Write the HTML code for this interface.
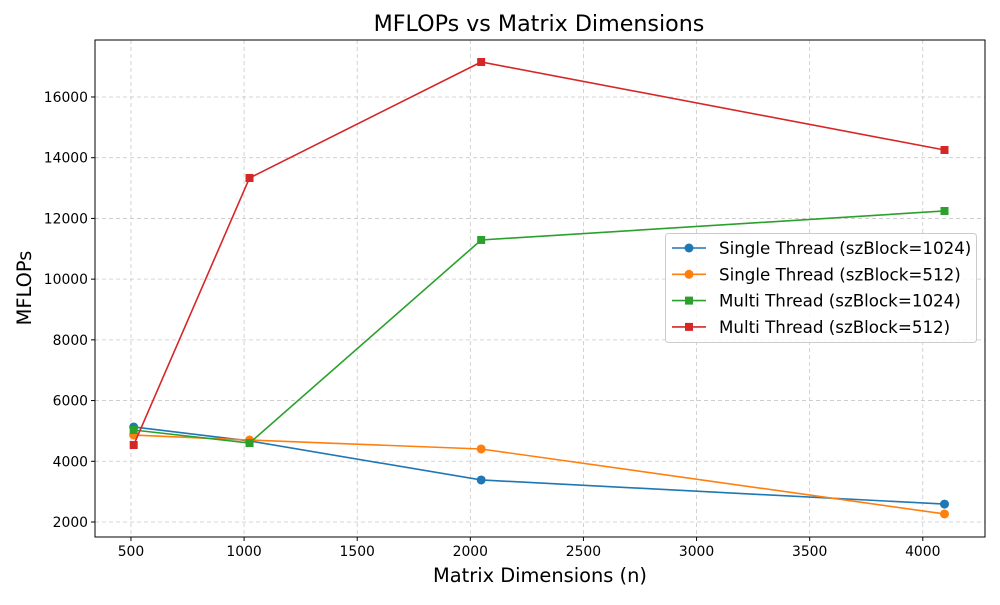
<!DOCTYPE html>
<html><head><meta charset="utf-8"><style>body{margin:0;background:#fff}svg text{font-family:"DejaVu Sans","Liberation Sans",sans-serif}</style></head>
<body>
<svg id="chart" width="1000" height="600">
<rect width="1000" height="600" fill="#fff"/>
<g id="grid"></g><g id="axes"></g><g id="series"></g>
<text x="539" y="31" font-size="22.2" text-anchor="middle">MFLOPs vs Matrix Dimensions</text>
<text x="540" y="582" font-size="19.4" text-anchor="middle">Matrix Dimensions (n)</text>
<text transform="translate(31,288) rotate(-90)" font-size="19.4" text-anchor="middle">MFLOPs</text>
<g id="legend"></g>
</svg>
<script>
const categories=[512,1024,2048,4096];
const singleT1024=[5130,4670,3385,2590];
const singleT512=[4865,4700,4405,2265];
const multiT1024=[5030,4600,11290,12245];
const multiT512=[4536,13332,17152,14254];
const xTicks=[500,1000,1500,2000,2500,3000,3500,4000];
const yTicks=[2000,4000,6000,8000,10000,12000,14000,16000];
const seriesNames=["Single Thread (szBlock=1024)","Single Thread (szBlock=512)","Multi Thread (szBlock=1024)","Multi Thread (szBlock=512)"];

const L=95,R=985,T=40,B=537,xmin=341,xmax=4275,ymin=1506,ymax=17877;
const sx=v=>L+(v-xmin)/(xmax-xmin)*(R-L);
const sy=v=>B-(v-ymin)/(ymax-ymin)*(B-T);
const NS="http://www.w3.org/2000/svg";
function mk(tag,attrs,parent){const e=document.createElementNS(NS,tag);for(const k in attrs)e.setAttribute(k,attrs[k]);parent.appendChild(e);return e;}
const grid=document.getElementById('grid'),axes=document.getElementById('axes'),ser=document.getElementById('series'),leg=document.getElementById('legend');
xTicks.forEach(t=>{const x=sx(t);
 const g=mk('line',{x1:x,x2:x,y1:T,y2:B,stroke:'#c8c8c8','stroke-dasharray':'4,3','stroke-width':0.8},grid);
 
 
 mk('line',{x1:x,x2:x,y1:B,y2:B+4,stroke:'#000'},axes);
 const tx=mk('text',{x:x,y:B+19,'font-size':13.9,'text-anchor':'middle'},axes);tx.textContent=t;
 
 });
yTicks.forEach(t=>{const y=sy(t);
 const g=mk('line',{x1:L,x2:R,y1:y,y2:y,stroke:'#c8c8c8','stroke-dasharray':'4,3','stroke-width':0.8},grid);
 
 
 mk('line',{x1:L-4,x2:L,y1:y,y2:y,stroke:'#000'},axes);
 const tx=mk('text',{x:L-7,y:y+5,'font-size':13.9,'text-anchor':'end'},axes);tx.textContent=t;
 
 });
const frame=mk('rect',{x:L,y:T,width:R-L,height:B-T,fill:'none',stroke:'#000','stroke-width':1},axes);


const colors=['#1f77b4','#ff7f0e','#2ca02c','#d62728'],marks=['o','o','s','s'];
function marker(m,x,y,c,p){if(m==='o')return mk('circle',{cx:x,cy:y,r:4.5,fill:c},p);return mk('rect',{x:x-4,y:y-4,width:8,height:8,fill:c},p);}
[singleT1024,singleT512,multiT1024,multiT512].forEach((vals,i)=>{
 const pts=vals.map((v,j)=>sx(categories[j])+','+sy(v)).join(' ');
 const pl=mk('polyline',{points:pts,fill:'none',stroke:colors[i],'stroke-width':1.6},ser);
 
 
 vals.forEach((v,j)=>{const m=marker(marks[i],sx(categories[j]),sy(v),colors[i],ser);
  
  });
});
const lb=mk('rect',{x:665.5,y:233.5,width:311,height:109,rx:3,fill:'#fff','fill-opacity':0.8,stroke:'#ccc'},leg);


seriesNames.forEach((n,i)=>{const y=248+i*26.3;
 mk('line',{x1:672,x2:706,y1:y,y2:y,stroke:colors[i],'stroke-width':1.6},leg);
 marker(marks[i],689,y,colors[i],leg);
 const tx=mk('text',{x:719,y:y+6,'font-size':16.7},leg);tx.textContent=n;
 
 });
</script>
</body></html>
